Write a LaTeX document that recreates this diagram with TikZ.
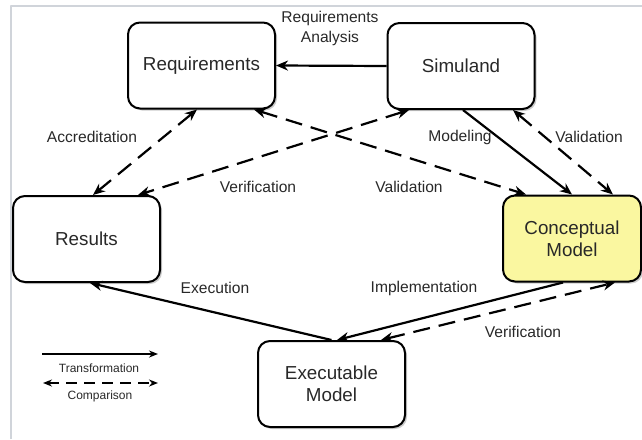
\documentclass[tikz,border=0pt]{standalone}
\usepackage{fontspec}
\setmainfont{Liberation Sans}
\usetikzlibrary{arrows.meta,shadows}

\definecolor{framegray}{RGB}{208,212,218}
\definecolor{conceptfill}{RGB}{250,247,160}
\definecolor{inkgray}{RGB}{40,40,40}

\tikzset{
  stage/.style={draw=black, line width=2pt, rounded corners=12pt, fill=white,
    minimum width=147pt, minimum height=86pt, inner sep=0pt, align=center,
    text=inkgray, font=\fontsize{18.8}{22}\selectfont,
    drop shadow={shadow xshift=2pt, shadow yshift=-2pt, fill=black!40}},
  trans/.style={->, line width=2.2pt},
  comp/.style={<->, line width=2.2pt, dash pattern=on 17pt off 9pt},
  lbl/.style={font=\fontsize{15.6}{20}\selectfont, align=center, inner sep=0pt, text=inkgray},
  keylbl/.style={font=\fontsize{12}{14}\selectfont, inner sep=0pt, text=inkgray},
}

\begin{document}
\begin{tikzpicture}[x=1pt, y=-1pt, line join=round, >={Stealth[length=12pt, width=10pt]}]
    \useasboundingbox (0,0) rectangle (642,439);
    \draw [line width=2pt, color=framegray] (11,439) -- (11,6) -- (642,6);

    % stages
    \node [stage] (req) at (201.5, 65.5) {Requirements};
    \node [stage] (sim) at (461, 66) {Simuland};
    \node [stage] (res) at (86.5, 239) {Results};
    \node [stage, fill=conceptfill, minimum width=138pt] (con) at (572, 238.5) {Conceptual\\Model};
    \node [stage] (exe) at (331.5, 384) {Executable\\Model};

    % transformations
    \draw [trans] (sim.west) -- (req.east);
    \draw [trans] ([xshift=2pt]sim.south) -- (con.north);
    \draw [trans] (exe.north) -- ([xshift=3.5pt]res.south);
    \draw [trans] ([xshift=-9pt]con.south) -- ([xshift=5.5pt]exe.north);

    % comparisons
    \draw [comp] ([xshift=-4.5pt]req.south) -- ([xshift=6.5pt]res.north);
    \draw [comp] ([xshift=22.5pt]sim.south west) -- ([xshift=-23pt]res.north east);
    \draw [comp] ([xshift=-22pt]req.south east) -- ([xshift=24pt]con.north west);
    \draw [comp] ([xshift=-22.5pt]sim.south east) -- ([xshift=-29pt]con.north east);
    \draw [comp] ([xshift=-25pt]exe.north east) -- ([xshift=-27pt]con.south east);

    \node [lbl] (l-analysis) at (330, 28) {Requirements\\Analysis};
    \node [lbl] (l-accred) at (92, 137) {Accreditation};
    \node [lbl] (l-model) at (460, 137) {Modeling};
    \node [lbl] (l-valsim) at (589, 137) {Validation};
    \node [lbl] (l-verres) at (258, 187) {Verification};
    \node [lbl] (l-valreq) at (409, 187) {Validation};
    \node [lbl] (l-exec) at (215, 288) {Execution};
    \node [lbl] (l-impl) at (424, 288) {Implementation};
    \node [lbl] (l-verexe) at (523, 332) {Verification};

    % key
    \coordinate (k1a) at (42, 354);
    \coordinate (k1b) at (158, 354);
    \coordinate (k2a) at (43, 383);
    \coordinate (k2b) at (158, 383);
    \draw [->, line width=2pt, >={Stealth[length=9pt, width=7pt]}] (k1a) -- (k1b);
    \draw [<->, line width=2pt, dash pattern=on 11pt off 7pt, >={Stealth[length=9pt, width=7pt]}] (k2a) -- (k2b);
    \node [keylbl] (k-trans) at (99, 368) {Transformation};
    \node [keylbl] (k-comp) at (100, 396) {Comparison};
\end{tikzpicture}
\end{document}
